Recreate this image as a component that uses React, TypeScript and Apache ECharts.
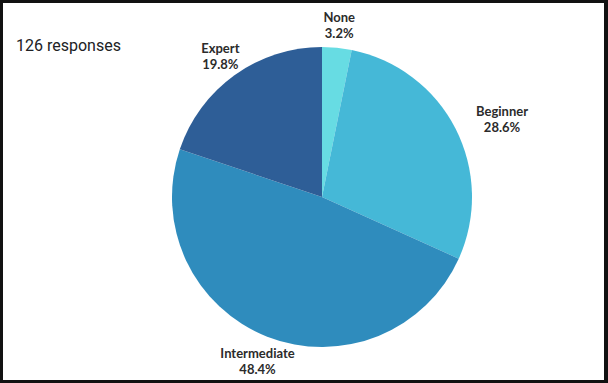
import React, { useEffect, useRef } from "react";
import * as echarts from "echarts";

const CATEGORIES = ["None", "Beginner", "Intermediate", "Expert"];
const COUNTS = [4, 36, 61, 25];
const COLORS = ["#67dce3", "#45b8d7", "#2f8cbd", "#2e5e97"];
const TITLE = "126 responses";

const TOTAL = COUNTS.reduce((a, b) => a + b, 0);

// layout constants
const CX = 322;
const CY = 197;
const RADIUS = 150;
// per-label [angle shift in degrees, gap beyond rim]
const LABEL_NUDGE: [number, number][] = [
  [0, 5],
  [3.7, 16],
  [0, -2],
  [0, 0],
];

export default function App() {
  const ref = useRef<HTMLDivElement>(null);

  useEffect(() => {
    if (!ref.current) return;
    const chart = echarts.init(ref.current, undefined, { renderer: "svg" });
    chart.setOption({
      animation: false,
      backgroundColor: "#ffffff",
      graphic: [
        {
          type: "text",
          x: 16,
          y: 45,
          style: {
            text: TITLE,
            font: "16px Roboto",
            fill: "#202124",
            verticalAlign: "middle",
            align: "left",
          },
        },
      ],
      series: [
        {
          type: "pie",
          center: [CX, CY],
          radius: RADIUS,
          startAngle: 90,
          clockwise: true,
          percentPrecision: 1,
          avoidLabelOverlap: false,
          data: CATEGORIES.map((name, i) => ({
            name,
            value: COUNTS[i],
            itemStyle: { color: COLORS[i] },
          })),
          label: {
            show: true,
            position: "outside",
            formatter: "{b}\n{d}%",
            fontFamily: "Lato",
            fontWeight: "bold",
            fontSize: 13,
            lineHeight: 16,
            color: "#2b2b2b",
            align: "center",
          },
          labelLine: { show: false },
          emphasis: { disabled: true },
          labelLayout: (p: any) => {
            const i = p.dataIndex;
            let before = 0;
            for (let k = 0; k < i; k++) before += COUNTS[k];
            const frac = (before + COUNTS[i] / 2) / TOTAL;
            const a = frac * Math.PI * 2 + (LABEL_NUDGE[i][0] * Math.PI) / 180;
            const ux = Math.sin(a);
            const uy = -Math.cos(a);
            const w = p.labelRect.width;
            const h = p.labelRect.height;
            const s = (Math.abs(ux) * w) / 2 + (Math.abs(uy) * h) / 2;
            const d = RADIUS + LABEL_NUDGE[i][1] + s;
            return {
              x: CX + ux * d,
              y: CY + uy * d,
              align: "center",
              verticalAlign: "middle",
            };
          },
        },
      ],
    });
    return () => chart.dispose();
  }, []);

  return (
    <div style={{ position: "absolute", left: 0, top: 0, width: 608, height: 383 }}>
      <div ref={ref} style={{ position: "absolute", left: 0, top: 0, width: 608, height: 383 }} />
      <div
        style={{
          position: "absolute",
          left: 0,
          top: 0,
          width: 608,
          height: 383,
          boxSizing: "border-box",
          borderTop: "3px solid #111",
          borderLeft: "3px solid #111",
          borderBottom: "3px solid #111",
          borderRight: "4px solid #111",
          pointerEvents: "none",
        }}
      />
    </div>
  );
}
